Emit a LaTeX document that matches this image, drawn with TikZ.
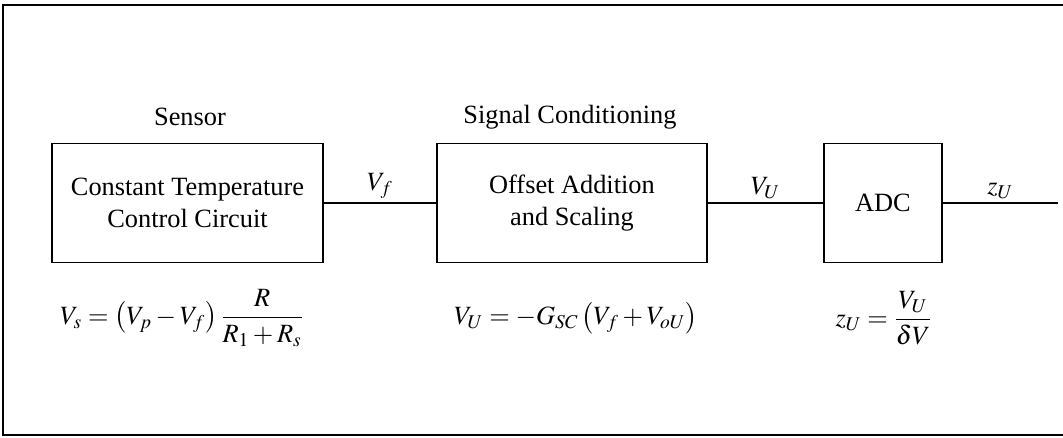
\documentclass[tikz,border=0pt]{standalone}
\usepackage{amsmath}
\usepackage{mathptmx}
\usepackage{fontspec}
\setmainfont{Liberation Serif}
\usepackage{tikz}
\usetikzlibrary{positioning}

\begin{document}
\begin{tikzpicture}[font=\fontsize{15}{18}\selectfont, line width=0.8pt,
		block/.style={draw, align=center, minimum height=2.38cm},
		sig/.style={above, inner sep=2pt}]
			\useasboundingbox (0,0) rectangle (21.26,-8.76);
			% open frame round the picture
			\draw (21.26,-0.1) -- (0.06,-0.1) -- (0.06,-8.7) -- (21.26,-8.7);
			\node[block, minimum width=5.42cm] (sensor) at (3.75,-4.06)
			{Constant Temperature\\Control Circuit};
			\node[block, minimum width=5.40cm] (cond) at (11.44,-4.06)
			{Offset Addition\\and Scaling};
			\node[block, minimum width=2.36cm] (adc) at (17.66,-4.06) {ADC};
			\coordinate (out) at (21.16,-4.06);
			\node (sensorlbl) at (3.8,-2.34) {Sensor};
			\node (condlbl) at (11.4,-2.34) {Signal Conditioning};
			\draw (sensor) -- node[sig] (vf) {$V_f$} (cond);
			\draw (cond) -- node[sig] (vu) {$V_U$} (adc);
			\draw (adc) -- node[sig] (zu) {$z_U$} (out);
			\node (eqsensor) at (3.64,-6.36)
			{$V_s = \left(V_p - V_f\right)\dfrac{R}{R_1 + R_s}$};
			\node (eqcond) at (11.52,-6.36)
			{$V_U = -G_{SC}\left(V_f + V_{oU}\right)$};
			\node (eqadc) at (17.68,-6.36) {$z_U = \dfrac{V_U}{\delta V}$};
		\end{tikzpicture}
\end{document}
